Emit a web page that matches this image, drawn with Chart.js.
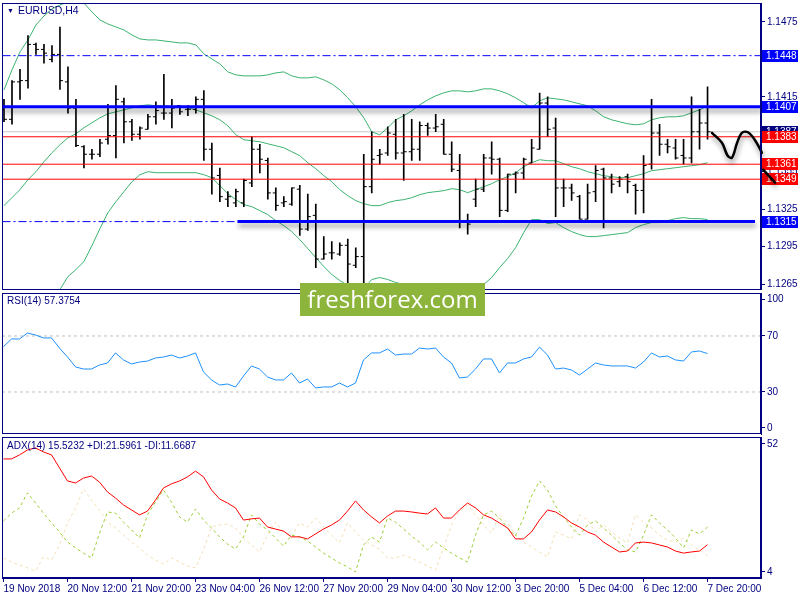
<!DOCTYPE html>
<html><head><meta charset="utf-8">
<script src="https://cdn.jsdelivr.net/npm/chart.js@4.4.0/dist/chart.umd.min.js"></script>
<style>
html,body{margin:0;padding:0;background:#fff;}
#wrap{position:relative;width:800px;height:600px;overflow:hidden;background:#fff;font-family:'Liberation Sans',Arial,sans-serif;}
canvas{position:absolute;left:0;}
.lbl{position:absolute;font-size:10px;color:#000080;white-space:nowrap;line-height:12px;}
#wm{position:absolute;left:300px;top:283px;width:185px;height:33px;background:#8db43b;color:#fff;font-family:'Open Sans',sans-serif;font-size:24px;line-height:32px;text-align:center;z-index:5;}
</style></head><body>
<div id="wrap">
<canvas id="cMain" width="800" height="292" style="top:0"></canvas>
<canvas id="cRsi" width="800" height="144" style="top:292px"></canvas>
<canvas id="cAdx" width="800" height="164" style="top:436px"></canvas>
<div class="lbl" style="left:7px;top:5px;font-size:7px;">&#9660;</div>
<div class="lbl" style="left:18px;top:4px;font-size:10.5px;">EURUSD,H4</div>
<div class="lbl" style="left:7px;top:295px;">RSI(14) 57.3754</div>
<div class="lbl" style="left:7px;top:440px;">ADX(14) 15.5232 +DI:21.5961 -DI:11.6687</div>
<div id="wm">freshforex.com</div>
</div>
<script>
// ---------- DATA ----------
const xTickIndex = [0,8,16,24,32,40,48,56,64,72,80,88];
const xTickLabels = ['19 Nov 2018','20 Nov 12:00','21 Nov 20:00','23 Nov 04:00','26 Nov 12:00','27 Nov 20:00','29 Nov 04:00','30 Nov 12:00','3 Dec 20:00','5 Dec 04:00','6 Dec 12:00','7 Dec 20:00'];

const opens = [1.1405,1.1397,1.1427,1.1428,1.1457,1.1453,1.1445,1.1449,1.1427,1.1406,
1.1375,1.1369,1.1369,1.1381,1.1384,1.1411,1.1395,1.1385,1.1389,1.1399,
1.1402,1.1402,1.1408,1.1405,1.1405,1.1413,1.1373,1.1352,1.1333,1.1330,
1.1330,1.1346,1.1373,1.1364,1.1338,1.1330,1.1329,1.1341,1.1309,1.1320,
1.1285,1.1290,1.1289,1.1296,1.1280,1.1287,1.1343,1.1368,1.1370,1.1385,
1.1370,1.1371,1.1373,1.1392,1.1390,1.1393,1.1369,1.1356,1.1315,1.1333,
1.1341,1.1366,1.1365,1.1324,1.1353,1.1354,1.1362,1.1373,1.1410,1.1390,
1.1342,1.1342,1.1335,1.1317,1.1339,1.1357,1.1350,1.1347,1.1351,1.1344,
1.1340,1.1361,1.1386,1.1377,1.1374,1.1368,1.1366,1.1387,1.1394];
const highs = [1.1413,1.1428,1.1437,1.1464,1.1458,1.1457,1.1456,1.1471,1.1439,1.1413,
1.1376,1.1373,1.1381,1.1409,1.1424,1.1414,1.1397,1.1391,1.1401,1.1411,
1.1433,1.1413,1.1408,1.1408,1.1415,1.1420,1.1378,1.1358,1.1339,1.1341,
1.1349,1.1383,1.1377,1.1366,1.1342,1.1335,1.1342,1.1344,1.1337,1.1329,
1.1303,1.1299,1.1298,1.1301,1.1294,1.1369,1.1387,1.1373,1.1391,1.1397,
1.1401,1.1397,1.1395,1.1394,1.1401,1.1397,1.1379,1.1369,1.1321,1.1349,
1.1369,1.1379,1.1366,1.1353,1.1355,1.1366,1.1381,1.1418,1.1415,1.1398,
1.1349,1.1345,1.1336,1.1345,1.1360,1.1358,1.1353,1.1351,1.1353,1.1345,
1.1368,1.1413,1.1393,1.1381,1.1381,1.1381,1.1415,1.1405,1.1423];
const lows = [1.1395,1.1393,1.1413,1.1422,1.1449,1.1442,1.1443,1.1421,1.1402,1.1375,
1.1358,1.1365,1.1367,1.1377,1.1366,1.1378,1.1380,1.1381,1.1389,1.1393,
1.1397,1.1390,1.1401,1.1400,1.1402,1.1364,1.1337,1.1331,1.1327,1.1327,
1.1327,1.1343,1.1354,1.1333,1.1324,1.1327,1.1328,1.1304,1.1308,1.1278,
1.1285,1.1285,1.1288,1.1266,1.1278,1.1265,1.1338,1.1361,1.1368,1.1365,
1.1348,1.1364,1.1364,1.1384,1.1387,1.1369,1.1355,1.1310,1.1305,1.1327,
1.1339,1.1353,1.1319,1.1323,1.1338,1.1349,1.1362,1.1373,1.1383,1.1319,
1.1327,1.1332,1.1317,1.1317,1.1331,1.1310,1.1338,1.1343,1.1338,1.1321,
1.1322,1.1357,1.1368,1.1370,1.1365,1.1361,1.1362,1.1373,1.1381];
const closes = [1.1397,1.1427,1.1428,1.1457,1.1453,1.1450,1.1449,1.1428,1.1406,1.1376,
1.1369,1.1369,1.1378,1.1384,1.1413,1.1395,1.1385,1.1390,1.1399,1.1404,
1.1402,1.1406,1.1403,1.1405,1.1413,1.1373,1.1350,1.1335,1.1335,1.1339,
1.1348,1.1373,1.1365,1.1338,1.1328,1.1331,1.1342,1.1309,1.1319,1.1285,
1.1289,1.1290,1.1296,1.1281,1.1287,1.1343,1.1365,1.1369,1.1386,1.1370,
1.1371,1.1373,1.1392,1.1390,1.1391,1.1369,1.1357,1.1315,1.1313,1.1341,
1.1366,1.1365,1.1324,1.1353,1.1354,1.1365,1.1374,1.1410,1.1389,1.1342,
1.1342,1.1338,1.1317,1.1338,1.1356,1.1350,1.1345,1.1349,1.1347,1.1340,
1.1360,1.1386,1.1377,1.1375,1.1366,1.1366,1.1387,1.1394,1.1387];

const bbUpper = [1.14206,1.14366,1.14510,1.14606,1.14726,1.14798,1.14854,1.14886,1.14910,1.14918,
1.14902,1.14830,1.14766,1.14734,1.14710,1.14686,1.14646,1.14614,1.14606,1.14606,
1.14598,1.14590,1.14582,1.14582,1.14566,1.14494,1.14454,1.14414,1.14350,1.14326,
1.14318,1.14318,1.14318,1.14326,1.14342,1.14350,1.14318,1.14302,1.14302,1.14310,
1.14286,1.14254,1.14206,1.14142,1.14070,1.13982,1.13870,1.13846,1.13902,1.13966,
1.13998,1.14038,1.14086,1.14126,1.14158,1.14182,1.14198,1.14198,1.14190,1.14198,
1.14214,1.14214,1.14198,1.14174,1.14142,1.14102,1.14062,1.14118,1.14142,1.14134,
1.14126,1.14110,1.14094,1.14078,1.14038,1.13990,1.13966,1.13950,1.13934,1.13926,
1.13934,1.13966,1.13982,1.13990,1.13990,1.13998,1.14022,1.14046,1.14078];
const bbMiddle = [1.13278,1.13342,1.13406,1.13486,1.13550,1.13630,1.13702,1.13766,1.13822,1.13854,
1.13902,1.13942,1.13982,1.14014,1.14030,1.14046,1.14062,1.14078,1.14086,1.14078,
1.14078,1.14070,1.14070,1.14062,1.14046,1.14022,1.13998,1.13966,1.13918,1.13846,
1.13806,1.13798,1.13790,1.13774,1.13758,1.13742,1.13710,1.13678,1.13622,1.13574,
1.13518,1.13470,1.13406,1.13358,1.13318,1.13294,1.13278,1.13278,1.13302,1.13318,
1.13326,1.13342,1.13366,1.13382,1.13390,1.13398,1.13414,1.13406,1.13382,1.13406,
1.13430,1.13454,1.13486,1.13510,1.13542,1.13590,1.13622,1.13646,1.13638,1.13638,
1.13614,1.13590,1.13574,1.13550,1.13534,1.13518,1.13510,1.13502,1.13502,1.13518,
1.13534,1.13558,1.13566,1.13574,1.13582,1.13590,1.13598,1.13606,1.13622];
const bbLower = [1.12350,1.12318,1.12302,1.12366,1.12374,1.12462,1.12550,1.12606,1.12710,1.12766,
1.12830,1.12958,1.13094,1.13222,1.13310,1.13390,1.13470,1.13526,1.13550,1.13542,
1.13542,1.13542,1.13542,1.13542,1.13542,1.13526,1.13502,1.13438,1.13374,1.13326,
1.13286,1.13270,1.13238,1.13206,1.13158,1.13118,1.13070,1.13006,1.12934,1.12862,
1.12790,1.12726,1.12678,1.12638,1.12598,1.12614,1.12686,1.12702,1.12686,1.12662,
1.12646,1.12638,1.12638,1.12630,1.12622,1.12614,1.12622,1.12614,1.12582,1.12614,
1.12646,1.12702,1.12782,1.12854,1.12942,1.13062,1.13166,1.13166,1.13134,1.13142,
1.13102,1.13070,1.13046,1.13030,1.13030,1.13038,1.13046,1.13054,1.13062,1.13102,
1.13126,1.13142,1.13142,1.13158,1.13174,1.13182,1.13174,1.13174,1.13166];

const rsiValues = [62.4,67.9,67.9,72.1,70.7,68.6,68.6,61.4,55.0,47.9,
46.4,46.4,49.3,50.7,57.9,52.9,50.0,51.4,52.1,54.3,
55.0,56.4,54.3,55.7,57.9,44.3,38.6,35.0,35.7,33.6,
41.4,48.6,46.4,40.7,38.6,38.6,43.6,36.4,39.3,32.9,
33.6,33.6,36.4,33.6,36.4,52.9,57.9,57.9,60.7,56.4,
57.1,57.1,61.4,60.7,61.4,55.0,50.7,40.0,40.7,46.4,
53.6,53.6,43.6,50.7,50.7,53.6,55.0,62.1,56.4,46.4,
47.1,45.7,42.1,46.4,50.7,49.3,48.6,48.6,48.6,47.1,
51.4,57.9,55.0,55.7,52.9,52.1,58.6,59.3,57.4];

const adxValues = [45.1,45.1,46.5,48.2,48.9,47.5,46.5,42.0,37.5,36.8,
38.5,39.2,37.1,33.7,31.6,29.2,27.5,25.8,27.1,30.9,
35.1,36.5,37.5,38.9,40.9,38.9,34.4,31.3,29.9,28.2,
24.0,24.4,24.7,21.6,20.9,20.2,18.2,18.2,17.5,19.2,
20.9,22.3,24.0,27.1,30.6,27.5,25.1,23.0,25.4,27.1,
27.1,26.8,26.4,26.1,28.2,24.7,24.7,27.5,29.9,28.2,
25.8,24.7,23.0,21.3,17.5,17.5,19.9,24.0,27.5,26.8,
25.1,23.0,21.6,19.9,18.8,16.4,14.7,13.0,13.3,16.1,
16.4,16.1,15.4,14.7,13.3,12.6,13.0,13.3,15.5];
const plusDI = [23.7,26.4,28.2,33.4,29.9,26.4,23.0,19.9,16.4,14.4,
12.6,10.9,19.5,26.8,26.4,23.3,20.6,17.8,25.8,30.2,
34.4,30.2,25.1,23.3,27.8,24.0,21.3,18.2,15.7,14.0,
18.2,25.8,22.6,20.6,17.8,15.0,18.8,18.2,16.8,14.7,
12.6,10.9,9.2,7.8,6.1,15.4,18.2,16.4,24.7,23.3,
20.9,18.5,16.4,13.7,16.4,14.4,12.6,10.9,9.5,18.8,
25.8,27.1,24.7,21.3,18.5,24.7,32.3,37.5,34.4,28.9,
25.1,21.6,18.8,22.3,23.7,21.3,18.8,16.1,13.7,13.0,
18.8,25.8,23.0,20.6,17.8,14.4,20.6,19.2,21.6];
const minusDI = [10.9,9.5,8.5,7.5,6.4,11.3,10.2,15.4,23.0,28.2,
34.7,30.9,27.5,23.3,21.3,18.8,16.4,14.4,11.9,10.2,
8.8,10.9,9.5,8.1,7.5,13.7,21.6,22.3,22.6,21.3,
17.8,15.4,13.0,18.8,23.3,19.9,18.2,23.0,21.6,24.7,
21.6,18.8,16.1,23.0,19.9,17.1,15.4,14.0,10.9,10.9,
11.9,10.9,9.5,8.1,6.8,14.4,22.3,26.8,29.2,25.8,
22.3,19.5,25.8,23.0,18.8,16.4,14.7,13.0,11.3,19.9,
18.8,17.5,25.8,24.0,19.9,22.3,19.9,17.8,16.1,25.8,
23.3,21.3,18.8,17.1,16.4,17.8,15.4,13.7,11.7];

const priceTicks = [1.1475,1.1445,1.1415,1.1385,1.1355,1.1325,1.1295,1.1265];
const rsiTicks = [100,70,30,0];
const rsiLevels = [70,30];
const adxTicks = [52,4];

const levelDashDot = [1.1448];
const levelRed = [1.1383,1.1361,1.1349];
const levelBlue = [1.1407,1.1315];
const bidPrice = 1.1387;
const tagValues = [1.1448,1.1407,1.1387,1.1383,1.1361,1.1349,1.1315];
const tagKinds  = ['blue','blue','bid','red','red','red','blue'];
// hand-drawn forecast arrow (bar position, price)
const forecastCurve = [[88.56,1.13862],[89.8,1.13782],[90.5,1.13680],[91.05,1.13662],[91.7,1.13782],[92.3,1.13862],[93.05,1.13866],[93.9,1.13806],[94.8,1.13702],[95.6,1.13590],[96.45,1.13462]];
const forecastHead = [[94.95,1.13566],[96.45,1.13462],[96.7,1.13622]];

// ---------- LAYOUT / STYLE ----------
const FONT = "'Liberation Sans', Arial, sans-serif";
const NAVY = '#000080';
const X_MIN = -0.1875, X_MAX = 94.6875;
const TAGC = {blue:'#0000FF', red:'#FF0000', bid:'#000080'};

const framePlugin = {id:'frame', afterDraw(chart){
  const {ctx, chartArea:a} = chart;
  ctx.save(); ctx.strokeStyle = NAVY; ctx.lineWidth = 1;
  ctx.strokeRect(Math.floor(a.left)+0.5, Math.floor(a.top)+0.5, Math.round(a.right)-Math.floor(a.left)-1, Math.round(a.bottom)-Math.floor(a.top)-1);
  ctx.restore();
}};
const shadowPlugin = {id:'shadow',
  beforeDatasetDraw(chart,args){ const ds = chart.data.datasets[args.index]; if(ds.shadow){const c=chart.ctx; c.save(); c.shadowColor='rgba(0,0,0,0.42)'; c.shadowBlur=5; c.shadowOffsetX=1; c.shadowOffsetY=4;} },
  afterDatasetDraw(chart,args){ const ds = chart.data.datasets[args.index]; if(ds.shadow){chart.ctx.restore();} }
};
const tagPlugin = {id:'tags', beforeDatasetsDraw(chart){
  const y = chart.scales.y, ctx = chart.ctx;
  ctx.save(); ctx.font = '10px '+FONT; ctx.textBaseline = 'middle';
  tagValues.forEach((v,k)=>{
    const py = Math.round(y.getPixelForValue(v));
    ctx.fillStyle = TAGC[tagKinds[k]]; ctx.fillRect(762, py-6, 36, 12);
    ctx.fillStyle = '#fff'; ctx.fillText(v.toFixed(4), 766, py);
  });
  ctx.restore();
}};

function hline(v, x0, x1){ return [{x:x0, y:v},{x:x1, y:v}]; }
function series(arr){ return arr.map((v,i)=>({x:i, y:v})); }
function lineDs(data, color, width, extra){ return Object.assign({type:'line', data, borderColor:color, borderWidth:width, pointRadius:0, pointHoverRadius:0, fill:false, tension:0}, extra||{}); }

function yAxis(min, max, ticks, labels){
  return {position:'right', min, max, bounds:'data',
    afterFit(a){ a.width = 39; a.paddingTop = 0; a.paddingBottom = 0; },
    afterBuildTicks(a){ a.ticks = ticks.map(v=>({value:v})); },
    ticks:{autoSkip:false, padding:2, color:NAVY, font:{family:FONT, size:10}, callback:(v,i)=>labels[i]},
    grid:{drawOnChartArea:false, drawTicks:true, tickLength:4, color:NAVY, tickColor:NAVY},
    border:{color:NAVY, width:1}
  };
}
const xHidden = {type:'linear', min:X_MIN, max:X_MAX, bounds:'data', offset:false, display:false};
const common = {responsive:false, animation:false, devicePixelRatio:1, events:[],
  plugins:{legend:{display:false}, tooltip:{enabled:false}}};

// ---------- MAIN ----------
const mainDatasets = [
  lineDs(hline(bidPrice, X_MIN, X_MAX), '#C8C8C8', 1, {order:30}),
  lineDs(series(bbUpper), '#3CB371', 1, {order:20}),
  lineDs(series(bbMiddle), '#3CB371', 1, {order:20}),
  lineDs(series(bbLower), '#3CB371', 1, {order:20}),
  {type:'bar', data: highs.map((h,i)=>({x:i, y:[lows[i], h]})), backgroundColor:'#000', borderWidth:0, barThickness:1, order:10},
  lineDs(opens.map((v,i)=>({x:i-0.1875, y:v})), '#000', 1, {showLine:false, pointStyle:'line', pointRadius:1.5, pointBorderWidth:1, pointBorderColor:'#000', order:10}),
  lineDs(closes.map((v,i)=>({x:i+0.1875, y:v})), '#000', 1, {showLine:false, pointStyle:'line', pointRadius:1.5, pointBorderWidth:1, pointBorderColor:'#000', order:10}),
];
levelDashDot.forEach(v=>mainDatasets.push(lineDs(hline(v, X_MIN, X_MAX), '#0000FF', 1, {borderDash:[8,3,2,3], order:4})));
levelRed.forEach(v=>mainDatasets.push(lineDs(hline(v, X_MIN, X_MAX), '#FF0000', 1, {order:4})));
mainDatasets.push(lineDs(hline(levelBlue[0], X_MIN, X_MAX), '#0000FF', 3, {shadow:true, order:3}));
mainDatasets.push(lineDs(hline(levelBlue[1], X_MIN, 28.95), '#0000FF', 1, {borderDash:[8,3,2,3], order:3}));
mainDatasets.push(lineDs(hline(levelBlue[1], 29.2, 93.94), '#0000FF', 3, {shadow:true, order:3}));
mainDatasets.push(lineDs(forecastCurve.map(p=>({x:p[0], y:p[1]})), '#000', 2.5, {tension:0.35, clip:false, shadow:true, order:1, borderCapStyle:'round', borderJoinStyle:'round'}));
mainDatasets.push(lineDs(forecastHead.map(p=>({x:p[0], y:p[1]})), '#000', 2.5, {clip:false, shadow:true, order:1, borderCapStyle:'round', borderJoinStyle:'round'}));

new Chart(document.getElementById('cMain'), {
  type:'line',
  data:{datasets: mainDatasets},
  options: Object.assign({}, common, {
    layout:{padding:{left:2, top:3, right:0, bottom:2}},
    scales:{ x: xHidden,
      y: yAxis(1.12606, 1.14902, priceTicks, priceTicks.map(v=>v.toFixed(4))) }
  }),
  plugins:[tagPlugin, shadowPlugin, framePlugin]
});

// ---------- RSI ----------
const rsiTickPos = [96.4, 70, 30, 4.3];
new Chart(document.getElementById('cRsi'), {
  type:'line',
  data:{datasets:[
    ...rsiLevels.map(v=>lineDs(hline(v, X_MIN, X_MAX), '#C0C0C0', 1, {borderDash:[3,3], order:5})),
    lineDs(series(rsiValues), '#1E90FF', 1, {order:1})
  ]},
  options: Object.assign({}, common, {
    layout:{padding:{left:2, top:1, right:0, bottom:2}},
    scales:{ x: xHidden, y: yAxis(0, 100.7, rsiTickPos, rsiTicks.map(String)) }
  }),
  plugins:[framePlugin]
});

// ---------- ADX ----------
const adxTickPos = [50.3, 6.1];
new Chart(document.getElementById('cAdx'), {
  type:'line',
  data:{datasets:[
    lineDs(series(minusDI), '#F5DEB3', 1, {borderDash:[3,3], order:3}),
    lineDs(series(plusDI), '#9ACD32', 1, {borderDash:[3,3], order:2}),
    lineDs(series(adxValues), '#FF0000', 1, {order:1})
  ]},
  options: Object.assign({}, common, {
    layout:{padding:{left:2, top:1.5, right:0, bottom:0}},
    scales:{
      x:{type:'linear', min:X_MIN, max:X_MAX, bounds:'data', offset:false, position:'bottom',
        afterFit(a){ a.height = 22; a.paddingLeft = 0; a.paddingRight = 0; },
        afterBuildTicks(a){ a.ticks = xTickIndex.map(v=>({value:v})); },
        ticks:{autoSkip:false, maxRotation:0, minRotation:0, align:'start', padding:1, color:NAVY, font:{family:FONT, size:10},
          callback:(v,i)=>xTickLabels[i]},
        grid:{drawOnChartArea:false, drawTicks:true, tickLength:4, color:NAVY, tickColor:NAVY},
        border:{color:NAVY}
      },
      y: yAxis(4, 52.5, adxTickPos, adxTicks.map(String))
    }
  }),
  plugins:[framePlugin]
});
</script>
</body></html>
